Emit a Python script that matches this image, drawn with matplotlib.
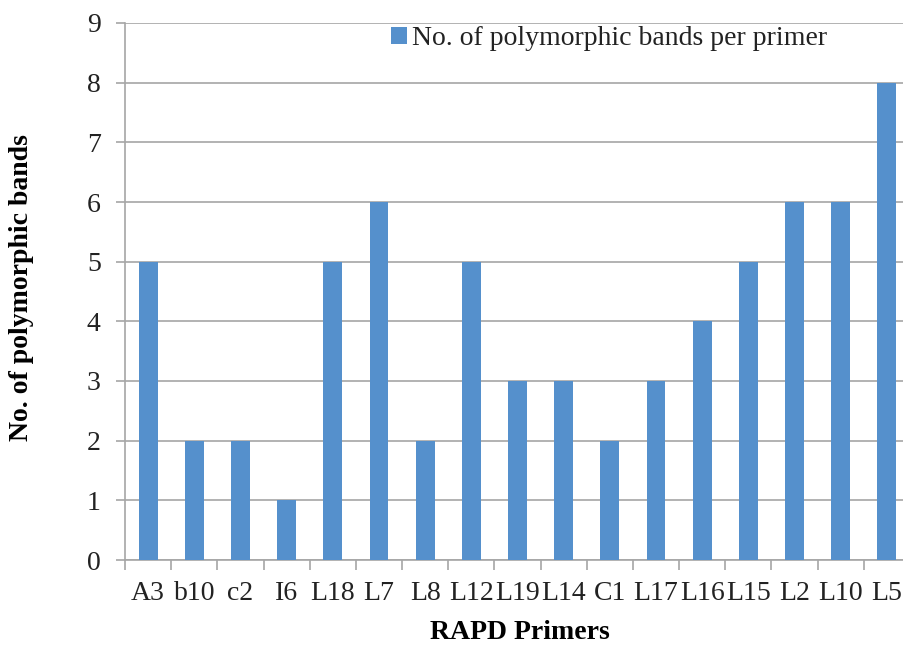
import numpy as np
import matplotlib.pyplot as plt

primers = ['A3', 'b10', 'c2', 'I6', 'L18', 'L7', 'L8', 'L12', 'L19', 'L14',
           'C1', 'L17', 'L16', 'L15', 'L2', 'L10', 'L5']
poly_bands = [5, 2, 2, 1, 5, 6, 2, 5, 3, 3, 2, 3, 4, 5, 6, 6, 8]
y_ticks = list(range(0, 10))

bar_color = '#5590cc'
grid_color = '#a6a6a6'
text_color = '#222222'
fs = 20

plt.rcParams['font.family'] = ['Liberation Serif', 'DejaVu Serif']

fig = plt.figure(figsize=(9.04, 6.47), dpi=100)
# plot area runs past the right edge of the figure
ax = fig.add_axes([125 / 904, 1 - 560 / 647, 785 / 904, 537 / 647])

x = np.arange(len(primers))
ax.bar(x, poly_bands, width=0.41, color=bar_color, zorder=3,
       label='No. of polymorphic bands per primer')

ax.set_xlim(-0.5, len(primers) - 0.5)
ax.set_ylim(0, 9)
ax.set_yticks(y_ticks)
ax.set_xticks(x)
ax.set_xticklabels(primers)
ax.set_xticks(np.arange(-0.5, len(primers)), minor=True)

ax.yaxis.grid(True, color=grid_color, linewidth=1.2, zorder=0)
for s in ['top', 'right']:
    ax.spines[s].set_visible(False)
for s in ['left', 'bottom']:
    ax.spines[s].set_color(grid_color)
    ax.spines[s].set_linewidth(1.2)

ax.tick_params(axis='y', which='major', length=6.5, width=1.2, color=grid_color,
               pad=11, labelsize=fs, labelcolor=text_color)
ax.tick_params(axis='x', which='major', length=0, pad=15, labelsize=fs,
               labelcolor=text_color)
ax.tick_params(axis='x', which='minor', length=7, width=1.2, color=grid_color)

ax.set_ylabel('No. of polymorphic bands', fontsize=fs, fontweight='bold')
ax.yaxis.set_label_coords((34 - 125) / 785, 0.507)
ax.set_xlabel('RAPD Primers', fontsize=fs, fontweight='bold')
ax.xaxis.set_label_coords((520 - 125) / 785, -(620 - 560) / 537)

fig.legend(loc='upper left', bbox_to_anchor=(391 / 904, 1 - 26 / 647),
           frameon=False, fontsize=fs, handlelength=0.58, handleheight=0.58,
           handletextpad=0.18, borderpad=0, borderaxespad=0,
           labelcolor=text_color)

fig.savefig('out.png', dpi=100)
